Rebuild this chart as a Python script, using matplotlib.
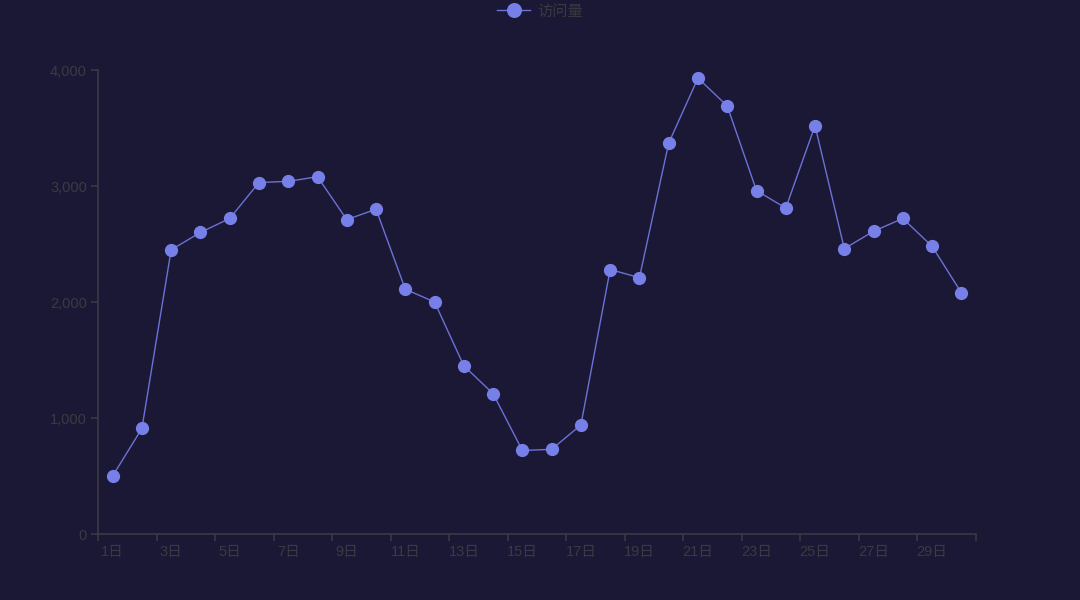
import matplotlib
matplotlib.use("Agg")
import matplotlib.pyplot as plt
from matplotlib.ticker import FixedLocator, FuncFormatter

plt.rcParams['font.family'] = ['Liberation Sans', 'Noto Sans CJK SC', 'DejaVu Sans']

days = [f"{i}日" for i in range(1, 31)]
visits = [500, 910, 2450, 2600, 2720, 3030, 3040, 3080, 2710, 2800,
          2110, 2000, 1450, 1210, 720, 730, 940, 2280, 2210, 3370,
          3930, 3690, 2960, 2810, 3520, 2460, 2610, 2720, 2480, 2080]
yticks = [0, 1000, 2000, 3000, 4000]
series_name = "访问量"

bg = "#1b1835"
axis_c = "#3a3a44"
text_c = "#3a3a42"
line_c = "#6a72d6"
marker_c = "#7680e8"

fig = plt.figure(figsize=(10.8, 6.0), dpi=100, facecolor=bg)
ax = fig.add_axes([98/1080, 1-534/600, (976-98)/1080, (534-70)/600])
ax.set_facecolor(bg)

x = list(range(len(days)))
ax.plot(x, visits, color=line_c, lw=1.0, marker='o', markersize=8.5,
        markerfacecolor=marker_c, markeredgecolor=marker_c, label=series_name,
        zorder=3, clip_on=False)

ax.set_xlim(-0.5, len(days) - 0.5)
ax.set_ylim(0, 4000)

for s in ['top', 'right']:
    ax.spines[s].set_visible(False)
for s in ['left', 'bottom']:
    ax.spines[s].set_color(axis_c)
    ax.spines[s].set_linewidth(1.2)

ax.xaxis.set_major_locator(FixedLocator([i - 0.5 for i in range(0, len(days) + 1, 2)]))
ax.xaxis.set_major_formatter(FuncFormatter(lambda v, p: ""))
ax.xaxis.set_minor_locator(FixedLocator(list(range(0, len(days), 2))))
ax.xaxis.set_minor_formatter(FuncFormatter(lambda v, p: days[int(round(v))]))
ax.tick_params(axis='x', which='major', length=5, color=axis_c, width=1.2)
ax.tick_params(axis='x', which='minor', length=0, labelsize=10.5, labelcolor=text_c, pad=8)

ax.set_yticks(yticks)
ax.yaxis.set_major_formatter(FuncFormatter(lambda v, p: f"{int(v):,}"))
ax.tick_params(axis='y', length=5, color=axis_c, width=1.2, labelsize=10.5,
               labelcolor=text_c, pad=3)

leg = fig.legend(loc='upper center', bbox_to_anchor=(0.5, 1.015), frameon=False,
                 fontsize=11, labelcolor=text_c, handlelength=2.2, handletextpad=0.45,
                 markerscale=1.15)

fig.savefig("out.png", dpi=100, facecolor=bg)
